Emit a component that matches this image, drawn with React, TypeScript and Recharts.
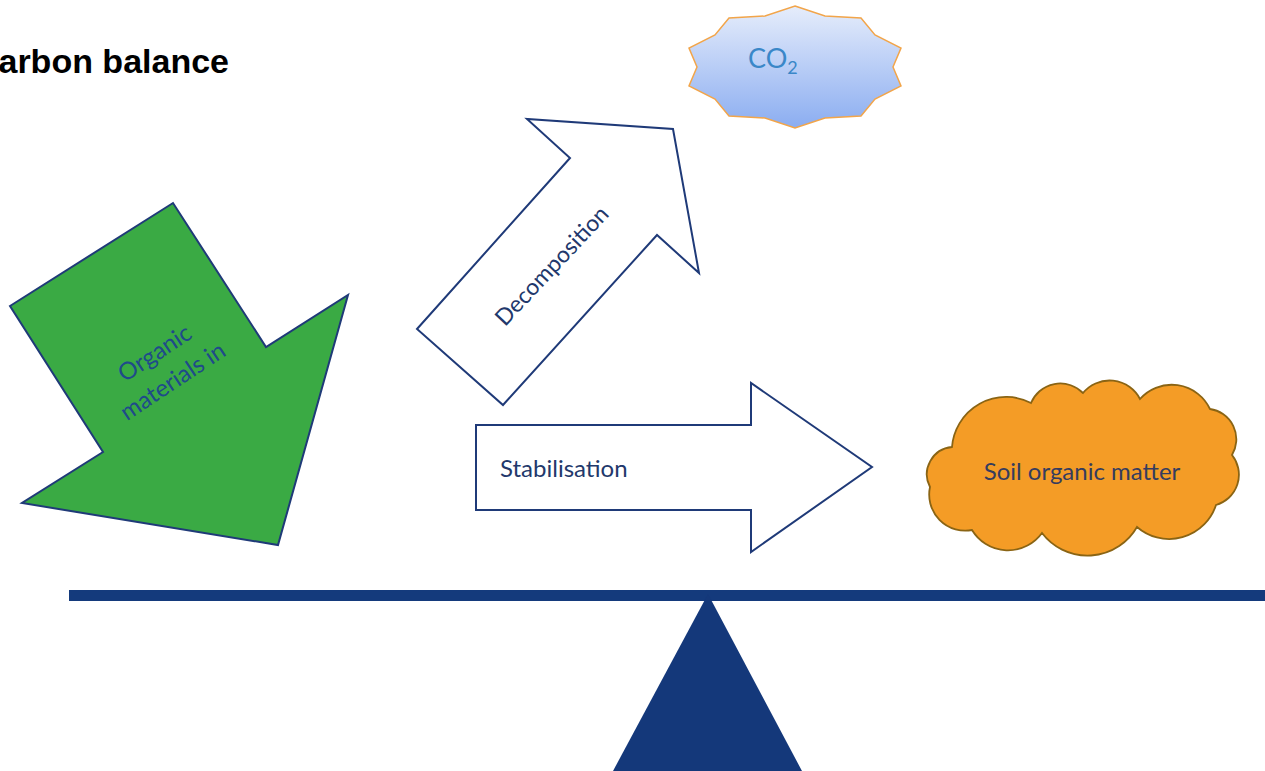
import React from "react";
import { ScatterChart, Scatter, XAxis, YAxis } from "recharts";

type Pt = { x: number; y: number };

const W = 1265;
const H = 771;

// outlines (picture pixels, y down)
const organicArrow: Pt[] = [
  { x: 10, y: 306 },
  { x: 173, y: 203 },
  { x: 266, y: 347 },
  { x: 348, y: 295 },
  { x: 278, y: 545 },
  { x: 22, y: 503 },
  { x: 103, y: 452 },
];

const decompositionArrow: Pt[] = [
  { x: 417, y: 329 },
  { x: 570, y: 158 },
  { x: 527, y: 119 },
  { x: 673, y: 129 },
  { x: 699, y: 273 },
  { x: 657, y: 235 },
  { x: 503, y: 405 },
];

const stabilisationArrow: Pt[] = [
  { x: 476, y: 425 },
  { x: 751, y: 425 },
  { x: 751, y: 383 },
  { x: 872, y: 467 },
  { x: 751, y: 552 },
  { x: 751, y: 510 },
  { x: 476, y: 510 },
];

const co2Star: Pt[] = [
  { x: 795, y: 6 },
  { x: 825, y: 16 },
  { x: 861, y: 18 },
  { x: 875, y: 35 },
  { x: 901, y: 48 },
  { x: 893, y: 67 },
  { x: 901, y: 86 },
  { x: 875, y: 99 },
  { x: 861, y: 116 },
  { x: 825, y: 118 },
  { x: 795, y: 128 },
  { x: 765, y: 118 },
  { x: 729, y: 116 },
  { x: 715, y: 99 },
  { x: 689, y: 86 },
  { x: 697, y: 67 },
  { x: 689, y: 48 },
  { x: 715, y: 35 },
  { x: 729, y: 18 },
  { x: 765, y: 16 },
];

// cusps of the cloud, clockwise from the left
const somCloud: Pt[] = [
  { x: 952, y: 447 },
  { x: 1031, y: 403 },
  { x: 1083, y: 393 },
  { x: 1140, y: 399 },
  { x: 1210, y: 409 },
  { x: 1232, y: 455 },
  { x: 1216, y: 505 },
  { x: 1137, y: 527 },
  { x: 1042, y: 533 },
  { x: 972, y: 530 },
  { x: 930, y: 487 },
];

const beam: Pt[] = [
  { x: 69, y: 590 },
  { x: 1265, y: 590 },
  { x: 1265, y: 601 },
  { x: 69, y: 601 },
];

const fulcrum: Pt[] = [
  { x: 708, y: 594 },
  { x: 802, y: 771 },
  { x: 613, y: 771 },
];

// label anchors
const titlePos: Pt[] = [{ x: 229, y: 73 }];
const co2Pos: Pt[] = [{ x: 748, y: 68 }];
const organicPos: Pt[] = [
  { x: 154, y: 352 },
  { x: 172, y: 380 },
];
const organicLines = ["Organic", "materials in"];
const decompositionPos: Pt[] = [{ x: 551, y: 265 }];
const stabilisationPos: Pt[] = [{ x: 500, y: 477 }];
const somPos: Pt[] = [{ x: 1082, y: 470 }];

const NAVY = "#1f3a78";
const TEXT_NAVY = "#22386b";
const BODY_FONT = "Lato, 'Open Sans', sans-serif";

const polyPath = (pts: Pt[]) =>
  pts.map((p, i) => `${i ? "L" : "M"}${p.x},${p.y}`).join(" ") + " Z";

const cloudPath = (pts: Pt[]) => {
  let d = `M${pts[0].x},${pts[0].y}`;
  for (let i = 1; i <= pts.length; i++) {
    const a = pts[i - 1];
    const b = pts[i % pts.length];
    const r = Math.hypot(b.x - a.x, b.y - a.y) * 0.6;
    d += ` A${r},${r} 0 0 1 ${b.x},${b.y}`;
  }
  return d + " Z";
};

const noDot = () => <g />;

const filled =
  (fill: string, stroke: string, strokeWidth: number, smooth = false) =>
  (props: any) => {
    const pts = (props.points || []) as Pt[];
    if (pts.length === 0) return <g />;
    return (
      <path
        d={smooth ? cloudPath(pts) : polyPath(pts)}
        fill={fill}
        stroke={stroke}
        strokeWidth={strokeWidth}
        strokeLinejoin="miter"
      />
    );
  };

export default function App() {
  return (
    <div
      style={{
        position: "absolute",
        left: 0,
        top: 0,
        width: W,
        height: H,
        background: "#fff",
      }}
    >
      <ScatterChart
        width={W}
        height={H}
        margin={{ top: 0, right: 0, bottom: 0, left: 0 }}
      >
        <defs>
          <linearGradient id="co2fill" x1="0" y1="0" x2="0" y2="1">
            <stop offset="0%" stopColor="#e6edfb" />
            <stop offset="100%" stopColor="#8badf1" />
          </linearGradient>
        </defs>
        <XAxis type="number" dataKey="x" domain={[0, W]} hide />
        <YAxis type="number" dataKey="y" domain={[0, H]} reversed hide />

        <Scatter
          data={co2Star}
          line={filled("url(#co2fill)", "#f2a54a", 1.5)}
          shape={noDot}
          isAnimationActive={false}
        />
        <Scatter
          data={co2Pos}
          shape={(p: any) => (
            <text
              x={p.cx}
              y={p.cy}
              fill="#3a87c8"
              fontFamily={BODY_FONT}
              fontSize={27}
            >
              CO
              <tspan fontSize={18} dy={6}>
                2
              </tspan>
            </text>
          )}
          isAnimationActive={false}
        />

        <Scatter
          data={organicArrow}
          line={filled("#3aaa44", NAVY, 2)}
          shape={noDot}
          isAnimationActive={false}
        />
        <Scatter
          data={organicPos}
          shape={(p: any) => (
            <text
              x={p.cx}
              y={p.cy}
              fill="#1f4a8a"
              fontFamily={BODY_FONT}
              fontSize={24}
              textAnchor="middle"
              dominantBaseline="central"
              transform={`rotate(-33.5 ${p.cx} ${p.cy})`}
            >
              {organicLines[p.index]}
            </text>
          )}
          isAnimationActive={false}
        />

        <Scatter
          data={decompositionArrow}
          line={filled("#ffffff", NAVY, 2)}
          shape={noDot}
          isAnimationActive={false}
        />
        <Scatter
          data={decompositionPos}
          shape={(p: any) => (
            <text
              x={p.cx}
              y={p.cy}
              fill={TEXT_NAVY}
              fontFamily={BODY_FONT}
              fontSize={23}
              textAnchor="middle"
              dominantBaseline="central"
              transform={`rotate(-46.8 ${p.cx} ${p.cy})`}
            >
              Decomposition
            </text>
          )}
          isAnimationActive={false}
        />

        <Scatter
          data={stabilisationArrow}
          line={filled("#ffffff", NAVY, 2)}
          shape={noDot}
          isAnimationActive={false}
        />
        <Scatter
          data={stabilisationPos}
          shape={(p: any) => (
            <text
              x={p.cx}
              y={p.cy}
              fill={TEXT_NAVY}
              fontFamily={BODY_FONT}
              fontSize={24}
            >
              Stabilisation
            </text>
          )}
          isAnimationActive={false}
        />

        <Scatter
          data={somCloud}
          line={filled("#f49c26", "#8a6414", 1.8, true)}
          shape={noDot}
          isAnimationActive={false}
        />
        <Scatter
          data={somPos}
          shape={(p: any) => (
            <text
              x={p.cx}
              y={p.cy}
              fill="#363c5e"
              fontFamily={BODY_FONT}
              fontSize={24}
              textAnchor="middle"
              dominantBaseline="central"
            >
              Soil organic matter
            </text>
          )}
          isAnimationActive={false}
        />

        <Scatter
          data={beam}
          line={filled("#143a7c", "none", 0)}
          shape={noDot}
          isAnimationActive={false}
        />
        <Scatter
          data={fulcrum}
          line={filled("#14387a", "none", 0)}
          shape={noDot}
          isAnimationActive={false}
        />

        <Scatter
          data={titlePos}
          shape={(p: any) => (
            <text
              x={p.cx}
              y={p.cy}
              fill="#000"
              fontFamily="'Liberation Sans', Arial, sans-serif"
              fontWeight="bold"
              fontSize={34}
              textAnchor="end"
            >
              Carbon balance
            </text>
          )}
          isAnimationActive={false}
        />
      </ScatterChart>
    </div>
  );
}
